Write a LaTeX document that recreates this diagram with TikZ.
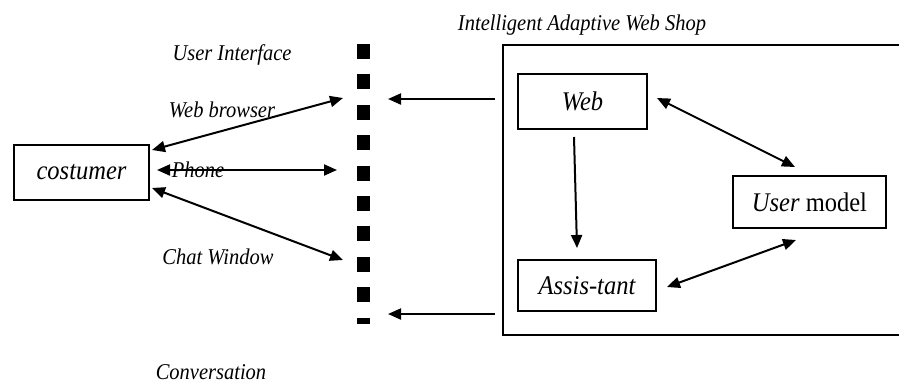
\documentclass[tikz,border=0pt]{standalone}
\usepackage{fontspec}
\usepackage{graphicx}
\setmainfont{Liberation Serif}
\usetikzlibrary{arrows.meta}
% text in this figure is set slightly taller than its natural shape
\newcommand{\tallset}[1]{\scalebox{1}[1.1]{#1}}
\tikzset{
  box/.style={draw, line width=1.6pt, inner sep=0pt, font=\fontsize{24.5}{28}\selectfont\itshape},
  lbl/.style={inner sep=0pt, font=\fontsize{20.5}{24}\selectfont\itshape},
  link/.style={line width=2pt, -{Triangle[length=13pt,width=11pt]}},
  biway/.style={line width=2pt, {Triangle[length=13pt,width=11pt]}-{Triangle[length=13pt,width=11pt]}},
  channel/.style={line width=13pt, dash pattern=on 15pt off 15.4pt}
}
\begin{document}
\begin{tikzpicture}[x=1pt,y=-1pt]
\useasboundingbox (0,0) rectangle (899,383);
% customer and shop components
\node[box, minimum width=135pt, minimum height=55pt] (cust) at (81.5,172.5) {\tallset{costumer}};
\node[draw, line width=1.6pt, minimum width=402pt, minimum height=290pt, inner sep=0pt] (shop) at (704,190) {};
\node[box, minimum width=129pt, minimum height=55pt] (web) at (582.5,101.5) {\tallset{Web}};
\node[box, minimum width=138pt, minimum height=51pt] (assist) at (587,285.5) {\tallset{Assis-tant}};
\node[box, minimum width=153pt, minimum height=52pt] (umodel) at (809.5,202) {\tallset{User\/ \upshape model}};
% interface bar
\coordinate (bartop) at (363.5,44);
\coordinate (barbot) at (363.5,323.5);
\draw[channel] (bartop) -- (barbot);
% labels
\node[lbl] (title) at (582,25) {\tallset{Intelligent Adaptive Web Shop}};
\node[lbl] (uilbl) at (232,55) {\tallset{User Interface}};
\node[lbl] (wblbl) at (222,110) {\tallset{Web browser}};
\node[lbl] (phlbl) at (198,170) {\tallset{Phone}};
\node[lbl] (chlbl) at (218,257) {\tallset{Chat Window}};
\node[lbl] (cvlbl) at (211,372) {\tallset{Conversation}};
% connector end points
\coordinate (c1) at (152,150);
\coordinate (c2) at (157,170);
\coordinate (c3) at (152,188);
\coordinate (u1) at (343,98);
\coordinate (u2) at (337,170);
\coordinate (u3) at (343,260);
\coordinate (s1) at (495,99);
\coordinate (s2) at (495,314);
\coordinate (b1) at (388,99);
\coordinate (b2) at (388,314);
\coordinate (w1) at (574,137);
\coordinate (a1) at (577,248);
\coordinate (w2) at (657,98);
\coordinate (m1) at (795,167);
\coordinate (a2) at (667,287);
\coordinate (m2) at (796,240);
% connectors
\draw[biway] (c1) -- (u1);
\draw[biway] (c2) -- (u2);
\draw[biway] (c3) -- (u3);
\draw[link] (s1) -- (b1);
\draw[link] (s2) -- (b2);
\draw[link] (w1) -- (a1);
\draw[biway] (w2) -- (m1);
\draw[biway] (a2) -- (m2);
\end{tikzpicture}
\end{document}
